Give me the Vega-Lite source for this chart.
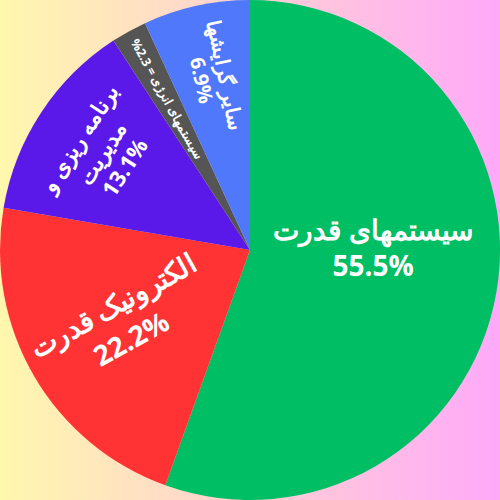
{
  "$schema": "https://vega.github.io/schema/vega-lite/v6.json",
  "width": 500,
  "height": 500,
  "padding": 0,
  "autosize": {"type": "fit", "contains": "padding"},
  "view": {
    "stroke": null,
    "fill": {
      "gradient": "linear",
      "x1": 0, "y1": 0, "x2": 1, "y2": 0,
      "stops": [
        {"offset": 0, "color": "#fff7ad"},
        {"offset": 1, "color": "#ffa9f9"}
      ]
    }
  },
  "data": {
    "values": [
      {"cat": "سیستمهای قدرت", "value": 55.5, "label": "سیستمهای قدرت\n55.5%", "idx": 1},
      {"cat": "الکترونیک قدرت", "value": 22.2, "label": "الکترونیک قدرت\n22.2%", "idx": 2},
      {"cat": "برنامه ریزی و مدیریت", "value": 13.1, "label": "برنامه ریزی و\nمدیریت\n13.1%", "idx": 3},
      {"cat": "سیستمهای انرژی", "value": 2.3, "label": "\u200fسیستمهای انرژی = 2.3%\u200f", "idx": 4},
      {"cat": "سایر گرایشها", "value": 6.9, "label": "سایر گرایشها\n6.9%", "idx": 5}
    ]
  },
  "encoding": {
    "theta": {"field": "value", "type": "quantitative", "stack": true},
    "order": {"field": "idx", "type": "quantitative"}
  },
  "layer": [
    {
      "mark": {"type": "arc"},
      "encoding": {
        "color": {
          "field": "cat",
          "type": "nominal",
          "legend": null,
          "scale": {
            "domain": ["سیستمهای قدرت", "الکترونیک قدرت", "برنامه ریزی و مدیریت", "سیستمهای انرژی", "سایر گرایشها"],
            "range": ["#00be64", "#ff3333", "#5b19e9", "#555555", "#5078fb"]
          }
        }
      }
    },
    {
      "mark": {"type": "text", "radius": 125, "dy": -39, "angle": 0, "fontSize": 28, "lineHeight": 36, "font": "Open Sans", "fontWeight": "bold", "color": "white", "lineBreak": "\n"},
      "encoding": {
        "text": {"condition": {"test": "datum.idx === 1", "field": "label"}, "value": ""}
      }
    },
    {
      "mark": {"type": "text", "radius": 147, "dy": -19, "angle": -29, "fontSize": 28, "lineHeight": 38, "font": "Open Sans", "fontWeight": "bold", "color": "white", "lineBreak": "\n"},
      "encoding": {
        "text": {"condition": {"test": "datum.idx === 2", "field": "label"}, "value": ""}
      }
    },
    {
      "mark": {"type": "text", "radius": 176, "dy": -27, "angle": -57, "fontSize": 22, "lineHeight": 27, "font": "Open Sans", "fontWeight": "bold", "color": "white", "lineBreak": "\n"},
      "encoding": {
        "text": {"condition": {"test": "datum.idx === 3", "field": "label"}, "value": ""}
      }
    },
    {
      "mark": {"type": "text", "radius": 172, "angle": 61, "fontSize": 12.5, "font": "Open Sans", "fontWeight": "bold", "color": "white"},
      "encoding": {
        "text": {"condition": {"test": "datum.idx === 4", "field": "label"}, "value": ""}
      }
    },
    {
      "mark": {"type": "text", "radius": 176, "dy": -12, "angle": 78, "fontSize": 20, "lineHeight": 24, "font": "Open Sans", "fontWeight": "bold", "color": "white", "lineBreak": "\n"},
      "encoding": {
        "text": {"condition": {"test": "datum.idx === 5", "field": "label"}, "value": ""}
      }
    }
  ]
}
